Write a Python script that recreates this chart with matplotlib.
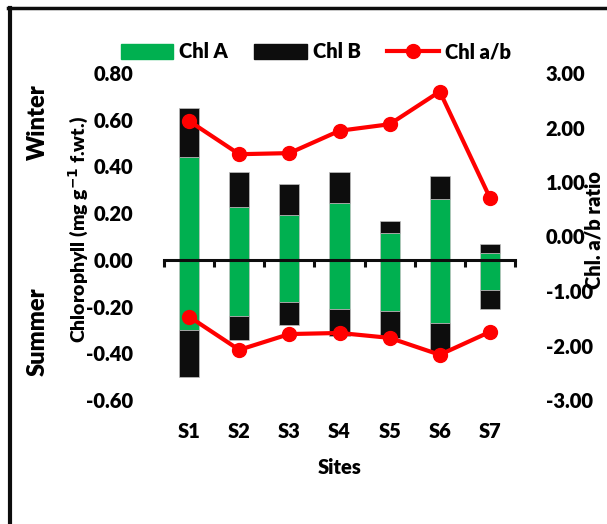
import matplotlib
matplotlib.use("Agg")
import matplotlib.pyplot as plt
from matplotlib.lines import Line2D

plt.rcParams['font.family'] = ['Lato', 'DejaVu Sans']
plt.rcParams['font.weight'] = 'heavy'

sites = ['S1', 'S2', 'S3', 'S4', 'S5', 'S6', 'S7']

# winter (plotted upwards)
chl_a_winter = [0.44, 0.225, 0.19, 0.245, 0.115, 0.26, 0.03]
chl_b_winter = [0.21, 0.15, 0.135, 0.13, 0.05, 0.10, 0.04]
ratio_winter = [2.12, 1.51, 1.53, 1.94, 2.06, 2.66, 0.71]

# summer (plotted downwards)
chl_a_summer = [-0.30, -0.24, -0.18, -0.21, -0.22, -0.27, -0.13]
chl_b_summer = [-0.20, -0.105, -0.10, -0.115, -0.115, -0.12, -0.08]
ratio_summer = [-1.47, -2.08, -1.79, -1.77, -1.86, -2.17, -1.75]

left_ticks = [-0.6, -0.4, -0.2, 0.0, 0.2, 0.4, 0.6, 0.8]
right_ticks = [-3, -2, -1, 0, 1, 2, 3]

green = '#00B050'
black = '#0D0D0D'
red = '#FF0000'
fs = 14.5

fig = plt.figure(figsize=(6.07, 5.24), dpi=100)
ax = fig.add_axes([164 / 607, 1 - 400 / 524, 351 / 607, 327 / 524])
x = list(range(len(sites)))

ax.bar(x, chl_a_winter, width=0.4, color=green, edgecolor='#BFBFBF', linewidth=0.5)
ax.bar(x, chl_b_winter, width=0.4, bottom=chl_a_winter, color=black,
       edgecolor='#BFBFBF', linewidth=0.5)
ax.bar(x, chl_a_summer, width=0.4, color=green, edgecolor='#BFBFBF', linewidth=0.5)
ax.bar(x, chl_b_summer, width=0.4, bottom=chl_a_summer, color=black,
       edgecolor='#BFBFBF', linewidth=0.5)

ax.set_xlim(-0.5, len(sites) - 0.5)
ax.set_ylim(-0.6, 0.8)
ax.set_yticks(left_ticks)
ax.set_yticklabels(['%.2f' % v for v in left_ticks], fontsize=fs)
ax.tick_params(axis='y', length=0, pad=22)

for s in ['top', 'right', 'left']:
    ax.spines[s].set_visible(False)
ax.spines['bottom'].set_position(('data', 0))
ax.spines['bottom'].set_linewidth(2.2)
ax.spines['bottom'].set_color(black)
ax.set_xticks([i - 0.5 for i in range(len(sites) + 1)])
ax.set_xticklabels([])
ax.tick_params(axis='x', direction='out', length=5, width=2.2, color=black)

# site names sit below the plot area, not on the zero line
for i, s in enumerate(sites):
    ax.text(i, -0.735, s, ha='center', va='center', fontsize=fs)

ax2 = ax.twinx()
ax2.set_ylim(-3, 3)
ax2.set_yticks(right_ticks)
ax2.set_yticklabels(['%.2f' % v for v in right_ticks], fontsize=fs)
ax2.tick_params(axis='y', length=0, pad=22)
for s in ax2.spines.values():
    s.set_visible(False)

ax2.plot(x, ratio_winter, color=red, lw=3, marker='o', ms=10, zorder=3)
ax2.plot(x, ratio_summer, color=red, lw=3, marker='o', ms=10, zorder=3)

fig.text(340 / 607, 1 - 468 / 524, 'Sites', ha='center', va='center', fontsize=fs)
fig.text(79 / 607, 1 - 230 / 524, 'Chlorophyll (mg g$^{\\mathbf{-1}}$ f.wt.)',
         rotation=90, ha='center', va='center', fontsize=14)
fig.text(594 / 607, 1 - 230 / 524, 'Chl. a/b ratio', rotation=90,
         ha='center', va='center', fontsize=fs)
fig.text(38 / 607, 1 - 122 / 524, 'Winter', rotation=90, ha='center',
         va='center', fontsize=17)
fig.text(38 / 607, 1 - 332 / 524, 'Summer', rotation=90, ha='center',
         va='center', fontsize=17)

handles = [plt.Rectangle((0, 0), 1, 1, color=green),
           plt.Rectangle((0, 0), 1, 1, color=black),
           Line2D([], [], color=red, lw=3, marker='o', ms=10)]
fig.legend(handles, ['Chl A', 'Chl B', 'Chl a/b'], ncol=3, frameon=False,
           loc='center', bbox_to_anchor=(316 / 607, 1 - 52 / 524),
           fontsize=fs, handlelength=2.6, handleheight=0.8,
           handletextpad=0.3, columnspacing=1.3)

# frame lines along the left and top edges
fig.add_artist(Line2D([9.5 / 607, 9.5 / 607], [0, 1 - 7.5 / 524],
                      color=black, lw=3, transform=fig.transFigure))
fig.add_artist(Line2D([8 / 607, 1], [1 - 7.5 / 524, 1 - 7.5 / 524],
                      color=black, lw=2.5, transform=fig.transFigure))

fig.savefig('out.png', dpi=100)
